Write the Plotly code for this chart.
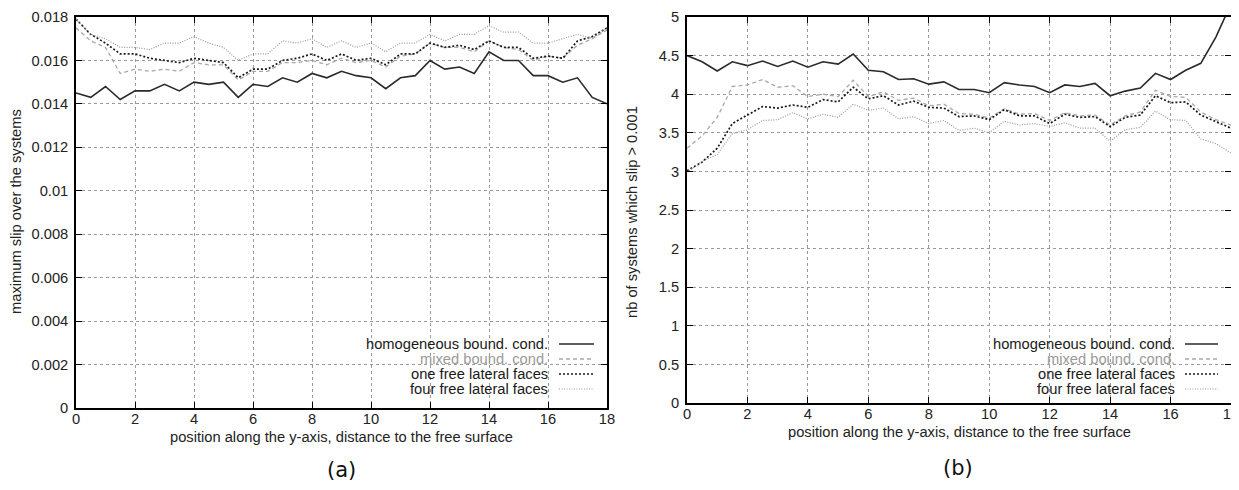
import plotly.graph_objects as go

# ---------------- data ----------------
position = [0, 0.5, 1, 1.5, 2, 2.5, 3, 3.5, 4, 4.5, 5, 5.5, 6, 6.5, 7, 7.5, 8, 8.5, 9,
            9.5, 10, 10.5, 11, 11.5, 12, 12.5, 13, 13.5, 14, 14.5, 15, 15.5, 16, 16.5,
            17, 17.5, 18]

series_names = ["homogeneous bound. cond.", "mixed bound. cond.",
                "one free lateral faces", "four free lateral faces"]

# (a) maximum slip over the systems
a_homogeneous = [0.0145, 0.0143, 0.0148, 0.0142, 0.0146, 0.0146, 0.0149, 0.0146, 0.0150,
                 0.0149, 0.0150, 0.0143, 0.0149, 0.0148, 0.0152, 0.0150, 0.0154, 0.0152,
                 0.0155, 0.0153, 0.0152, 0.0147, 0.0152, 0.0153, 0.0160, 0.0156, 0.0157,
                 0.0154, 0.0164, 0.0160, 0.0160, 0.0153, 0.0153, 0.0150, 0.0152, 0.0143,
                 0.0140]
a_mixed = [0.0175, 0.0169, 0.0166, 0.0154, 0.0156, 0.0155, 0.0156, 0.0155, 0.0159, 0.0158,
           0.0158, 0.0151, 0.0155, 0.0155, 0.0159, 0.0159, 0.0160, 0.0158, 0.0161, 0.0159,
           0.0160, 0.0157, 0.0162, 0.0163, 0.0168, 0.0166, 0.0166, 0.0164, 0.0169, 0.0166,
           0.0165, 0.0160, 0.0162, 0.0161, 0.0167, 0.0170, 0.0174]
a_one_free = [0.0179, 0.0172, 0.0168, 0.0163, 0.0163, 0.0161, 0.0160, 0.0159, 0.0161,
              0.0160, 0.0159, 0.0152, 0.0156, 0.0156, 0.0160, 0.0161, 0.0163, 0.0160,
              0.0163, 0.0160, 0.0161, 0.0158, 0.0163, 0.0163, 0.0168, 0.0166, 0.0167,
              0.0165, 0.0169, 0.0166, 0.0166, 0.0161, 0.0162, 0.0161, 0.0169, 0.0171,
              0.0175]
a_four_free = [0.0179, 0.0172, 0.0170, 0.0166, 0.0166, 0.0165, 0.0168, 0.0168, 0.0171,
               0.0168, 0.0166, 0.0160, 0.0163, 0.0163, 0.0169, 0.0168, 0.0170, 0.0166,
               0.0169, 0.0166, 0.0168, 0.0164, 0.0168, 0.0168, 0.0172, 0.0169, 0.0172,
               0.0172, 0.0176, 0.0173, 0.0173, 0.0168, 0.0168, 0.0170, 0.0172, 0.0170,
               0.0175]

# (b) nb of systems which slip > 0.001
b_homogeneous = [4.50, 4.42, 4.30, 4.42, 4.37, 4.43, 4.36, 4.43, 4.35, 4.42, 4.39, 4.52,
                 4.31, 4.29, 4.19, 4.20, 4.13, 4.16, 4.06, 4.06, 4.02, 4.15, 4.12, 4.10,
                 4.02, 4.12, 4.10, 4.14, 3.98, 4.04, 4.08, 4.27, 4.19, 4.31, 4.40, 4.74,
                 5.17]
b_mixed = [3.30, 3.46, 3.70, 4.10, 4.12, 4.19, 4.09, 4.11, 3.97, 4.00, 3.97, 4.18, 3.97,
           4.03, 3.92, 3.95, 3.85, 3.87, 3.75, 3.74, 3.69, 3.81, 3.74, 3.75, 3.66, 3.76,
           3.72, 3.73, 3.60, 3.72, 3.77, 4.05, 3.97, 3.96, 3.77, 3.67, 3.60]
b_one_free = [3.01, 3.12, 3.30, 3.62, 3.73, 3.84, 3.82, 3.86, 3.83, 3.93, 3.90, 4.09, 3.94,
              3.98, 3.86, 3.91, 3.83, 3.82, 3.71, 3.72, 3.67, 3.80, 3.72, 3.72, 3.62, 3.74,
              3.70, 3.71, 3.58, 3.70, 3.73, 3.98, 3.89, 3.90, 3.73, 3.65, 3.56]
b_four_free = [2.99, 3.13, 3.22, 3.49, 3.54, 3.66, 3.67, 3.76, 3.68, 3.74, 3.70, 3.87, 3.79,
               3.82, 3.68, 3.71, 3.62, 3.66, 3.53, 3.56, 3.50, 3.65, 3.60, 3.62, 3.58, 3.63,
               3.56, 3.56, 3.39, 3.54, 3.57, 3.78, 3.67, 3.66, 3.42, 3.36, 3.24]

x_ticks = [0, 2, 4, 6, 8, 10, 12, 14, 16, 18]
a_yticks = [0, 0.002, 0.004, 0.006, 0.008, 0.01, 0.012, 0.014, 0.016, 0.018]
a_yticktext = ["0", "0.002", "0.004", "0.006", "0.008", "0.01", "0.012", "0.014", "0.016", "0.018"]
b_yticks = [0, 0.5, 1, 1.5, 2, 2.5, 3, 3.5, 4, 4.5, 5]
b_yticktext = ["0", "0.5", "1", "1.5", "2", "2.5", "3", "3.5", "4", "4.5", "5"]

xlabel = "position along the y-axis, distance to the free surface"
a_ylabel = "maximum slip over the systems"
b_ylabel = "nb of systems which slip > 0.001"

# ---------------- styles ----------------
WIN_W, WIN_H = 1239, 490
BODY = 8  # default page margin around the plot div
W, H = WIN_W - 2 * BODY, WIN_H - 2 * BODY
FONT = "Liberation Sans, Arial, Helvetica, sans-serif"
FS = 14.7
styles = [
    dict(color="#2a2a2a", width=1.6, dash="solid"),
    dict(color="#a8a8a8", width=1.3, dash="4px,3px"),
    dict(color="#1a1a1a", width=1.7, dash="2px,2px"),
    dict(color="#9a9a9a", width=1.2, dash="1px,1.5px"),
]
text_colors = ["#1a1a1a", "#9a9a9a", "#1a1a1a", "#1a1a1a"]


def px_x(p):
    return min(1.0, max(0.0, (p - BODY) / W))


def px_y(p):
    return min(1.0, max(0.0, 1 - (p - BODY) / H))


fig = go.Figure()

a_data = [a_homogeneous, a_mixed, a_one_free, a_four_free]
b_data = [b_homogeneous, b_mixed, b_one_free, b_four_free]

for name, ys, st in zip(series_names, a_data, styles):
    fig.add_trace(go.Scatter(x=position, y=ys, mode="lines", name=name, line=st,
                             xaxis="x", yaxis="y", showlegend=False))
for name, ys, st in zip(series_names, b_data, styles):
    fig.add_trace(go.Scatter(x=position, y=ys, mode="lines", name=name, line=st,
                             xaxis="x2", yaxis="y2", showlegend=False))

axis_common = dict(
    showline=True, linecolor="black", linewidth=1.6, mirror="ticks",
    ticks="inside", ticklen=6, tickwidth=1.4, tickcolor="black",
    showgrid=True, gridcolor="#9a9a9a", gridwidth=1, griddash="dot",
    zeroline=False, automargin=False, ticklabeloverflow="allow",
    tickfont=dict(family=FONT, size=FS, color="#222222"),
)

fig.update_layout(
    template="none",
    width=W, height=H,
    margin=dict(l=0, r=0, t=0, b=0, pad=0, autoexpand=False),
    paper_bgcolor="white", plot_bgcolor="white",
    xaxis=dict(domain=[px_x(76), px_x(607)], range=[0, 18], tickvals=x_ticks,
               anchor="y", ticklabelstandoff=-3, **axis_common),
    yaxis=dict(domain=[px_y(408), px_y(17)], range=[0, 0.018], tickvals=a_yticks,
               ticktext=a_yticktext, anchor="x", ticklabelstandoff=3, **axis_common),
    xaxis2=dict(domain=[px_x(687), px_x(1231)], range=[0, 18], tickvals=x_ticks,
                anchor="y2", ticklabelstandoff=-3, **axis_common),
    yaxis2=dict(domain=[px_y(403), px_y(17)], range=[0, 5], tickvals=b_yticks,
                ticktext=b_yticktext, anchor="x2", ticklabelstandoff=3, **axis_common),
    showlegend=False,
)

annotations = []
shapes = []


def label(text, x, y, size=FS, family=FONT, angle=0, color="#222"):
    return dict(text=text, x=px_x(x), y=px_y(y), xref="paper", yref="paper",
                xanchor="center", yanchor="middle", showarrow=False, textangle=angle,
                font=dict(family=family, size=size, color=color))


# axis titles and captions
annotations.append(label(xlabel, 341, 437))
annotations.append(label(xlabel, 959, 432))
annotations.append(label(a_ylabel, 16, 212, angle=-90))
annotations.append(label(b_ylabel, 632, 212, angle=-90))
annotations.append(label("(a)", 341, 470, size=21, family="DejaVu Sans", color="#111"))
annotations.append(label("(b)", 958, 468, size=21, family="DejaVu Sans", color="#111"))

# manual gnuplot-style legends (text right-aligned, sample on the right)
legend_rows = [344, 359, 374, 389]
for text_right, s0, s1, box_left, box_right, box_bottom in [
        (550, 559, 594, 378, 606, 406), (1177, 1185, 1218, 1000, 1230, 401)]:
    shapes.append(dict(type="rect", xref="paper", yref="paper",
                       x0=px_x(box_left), x1=px_x(box_right),
                       y0=px_y(box_bottom), y1=px_y(334),
                       fillcolor="white", line=dict(width=0), layer="between"))
    for i, name in enumerate(series_names):
        annotations.append(dict(text=name, x=px_x(text_right), y=px_y(legend_rows[i]),
                                xref="paper", yref="paper", xanchor="right", yanchor="middle",
                                showarrow=False,
                                font=dict(family=FONT, size=FS, color=text_colors[i])))
        shapes.append(dict(type="line", xref="paper", yref="paper",
                           x0=px_x(s0), x1=px_x(s1),
                           y0=px_y(legend_rows[i]), y1=px_y(legend_rows[i]),
                           line=styles[i], layer="above"))

fig.update_layout(annotations=annotations, shapes=shapes)

fig.write_html("out.html")
